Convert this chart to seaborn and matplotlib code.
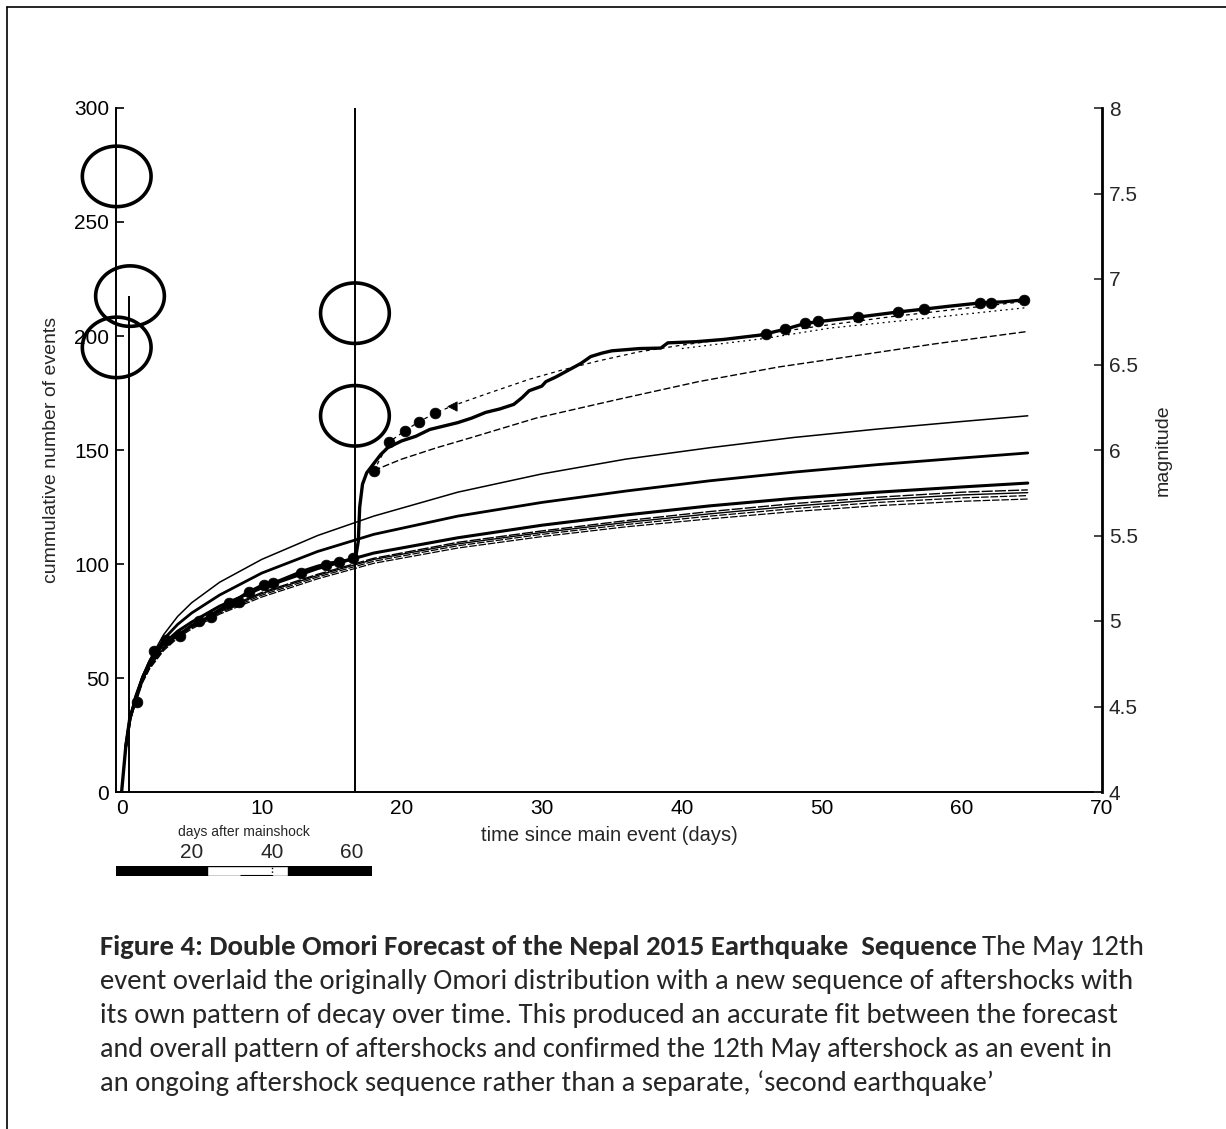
import numpy as np
import pandas as pd
import matplotlib
matplotlib.use("Agg")
import matplotlib.pyplot as plt
import seaborn as sns
from matplotlib.path import Path
from matplotlib.lines import Line2D
from matplotlib import font_manager as fm

# ---------------- data ----------------
# observed cumulative number of events
obs_days = [0.0, 0.3, 0.6, 1.0, 1.5, 2.0, 2.5, 3.0, 4.0, 5.0, 6.0, 7.0, 8.0, 9.0, 10.0,
            11.0, 12.0, 13.0, 14.0, 15.0, 16.0, 16.7, 16.9, 17.0, 17.2, 17.5, 18.0, 18.5,
            19.0, 20.0, 21.0, 22.0, 23.0, 24.0, 25.0, 26.0, 27.0, 28.0, 28.6, 29.1, 30.0,
            30.3, 31.0, 31.9, 32.8, 33.5, 34.3, 35.0, 36.0, 37.0, 38.5, 39.0, 41.0, 43.0,
            45.6, 46.0, 47.4, 48.8, 50.0, 52.6, 55.4, 57.3, 59.0, 61.3, 63.0, 64.7]
obs_counts = [0, 20, 33, 40, 50, 57, 62, 66, 68.5, 73, 76, 80, 83.5, 87.5, 90.5,
              92, 94.5, 97, 99, 100.5, 101.5, 102.5, 110, 125, 135, 140, 144, 148,
              151, 154, 156, 159, 160.5, 162, 164, 166.5, 168, 170, 173, 176, 178,
              180, 182, 185, 188, 191, 192.5, 193.5, 194, 194.5, 194.7, 197, 197.5, 198.5,
              200.4, 201, 203, 205.5, 206.5, 208.3, 210.5, 211.8, 213, 214.5, 215, 216]

# double-Omori forecast points (dots)
dot_days = [1.1, 2.3, 3.2, 4.2, 5.5, 6.4, 7.7, 8.4, 9.1, 10.2, 10.8, 12.8, 14.6, 15.5, 16.5,
            18.0, 19.1, 20.2, 21.2, 22.4,
            46.0, 47.4, 48.8, 49.7, 52.6, 55.4, 57.3, 61.3, 62.1, 64.4]
dot_counts = [39.5, 62, 66.7, 68.4, 75, 76.8, 82.9, 83.3, 87.7, 90.8, 91.7, 96, 99.6, 101, 102.5,
              140.8, 153.5, 158.3, 162.3, 166.2,
              201, 203, 205.7, 206.6, 208.3, 210.5, 211.8, 214.5, 214.5, 215.8]

# double-Omori forecast continuation (dashed)
dbl_days = [18.0, 19.1, 20.2, 21.2, 22.4, 23.6, 26.0, 29.1, 31.4, 34.0, 36.9, 40.0, 43.0,
            46.0, 50.0, 55.0, 60.0, 64.7]
dbl_counts = [140.8, 153.5, 158.3, 162.3, 166.2, 169.3, 174.5, 181, 185, 189, 193, 196, 198.5,
              201, 204.5, 208.5, 212, 215.3]
tri_day = [23.6]
tri_count = [169.3]

# variant forecast (dotted, late part)
var_days = [40.0, 46.0, 50.6, 57.8, 64.7]
var_counts = [194.5, 199, 203.5, 208, 212.5]

# single-Omori forecast for the second sequence (thin dashed)
f1_days = [18.0, 20.0, 22.5, 25.0, 29.6, 35.3, 41.2, 46.9, 52.0, 58.0, 64.7]
f1_counts = [141, 146, 151, 155.5, 164, 172, 180, 186.4, 191, 196.5, 202]

# single-Omori forecasts from the first sequence
fc_days = [0.3, 0.6, 1, 1.5, 2, 3, 4, 5, 7, 10, 14, 18, 24, 30, 36, 42, 48, 54, 60, 64.7]
fc_top = [20, 32, 42, 51, 58, 69, 77, 83, 92, 102, 112.5, 121, 131.5, 139.5, 146, 151, 155.5, 159.2, 162.5, 165]
fc_thick1 = [20, 32, 42, 50.5, 57, 67, 73.5, 78.5, 86.4, 96, 105.5, 113, 121, 127, 132, 136.5, 140.3, 143.6, 146.5, 148.7]
fc_thick2 = [20, 32, 41, 50, 56, 65, 70.5, 74.5, 81.5, 89.5, 98, 104.8, 111.5, 117, 121.5, 125.5, 128.8, 131.5, 133.8, 135.5]
fc_b1 = [20, 31.5, 40, 49, 55, 63.5, 69, 73, 79.5, 87.5, 95.5, 102.5, 109.5, 114.5, 119, 123, 126.5, 129.3, 131.5, 132.5]
fc_b2 = [20, 31.5, 40, 49, 55, 63, 68.5, 72.5, 79, 87, 95, 102, 108.8, 113.8, 118.2, 122, 125.4, 128.2, 130.3, 131.3]
fc_b3 = [20, 31, 40, 48.5, 54.5, 62.5, 68, 72, 78.5, 86.3, 94.3, 101.2, 108, 113, 117.3, 121, 124.3, 127, 129, 130]
fc_b4 = [20, 31, 39.5, 48, 54, 62, 67.5, 71.5, 78, 85.5, 93.5, 100.3, 107, 112, 116.3, 119.8, 123, 125.6, 127.5, 128.5]

# large events (magnitude, right axis)
evt_days = [-0.35, 0.6, -0.35, 16.66, 16.66]
evt_mags = [7.6, 6.9, 6.6, 6.8, 6.2]
stem_days = [0.55, 16.66]
stem_tops = [6.9, 8.0]

x_ticks = [0, 10, 20, 30, 40, 50, 60, 70]
y_ticks = [0, 50, 100, 150, 200, 250, 300]
m_ticks = [4, 4.5, 5, 5.5, 6, 6.5, 7, 7.5, 8]
m_labels = ["4", "4.5", "5", "5.5", "6", "6.5", "7", "7.5", "8"]

inset_ticks = [20, 40, 60]
inset_black1 = [1, 23.75]
inset_white = [23.75, 44]
inset_black2 = [44, 65]

caption_bold = "Figure 4: Double Omori Forecast of the Nepal 2015 Earthquake  Sequence"
caption_lines = [
    "The May 12th",
    "event overlaid the originally Omori distribution with a new sequence of aftershocks with",
    "its own pattern of decay over time. This produced an accurate fit between the forecast",
    "and overall pattern of aftershocks and confirmed the 12th May aftershock as an event in",
    "an ongoing aftershock sequence rather than a separate, \u2018second earthquake\u2019",
]

# ---------------- style ----------------
sns.set_style("white")
plt.rcParams["font.family"] = ["Liberation Sans", "DejaVu Sans"]

W, H = 1226, 1129
fig = plt.figure(figsize=(W / 100, H / 100), dpi=100)

def fx(px):
    return px / W

def fy(py):
    return 1 - py / H

ax = fig.add_axes([fx(116), fy(792), fx(1102) - fx(116), fy(108) - fy(792)])
ax.set_facecolor("none")

def line(xs, ys, lw, ls="-", ax_=None):
    df = pd.DataFrame({"x": xs, "y": ys})
    sns.lineplot(data=df, x="x", y="y", ax=ax_ or ax, color="black", linewidth=lw,
                 linestyle=ls, estimator=None, sort=False)

# first-sequence forecasts
for ys, lw, ls in [(fc_b4, 0.9, (0, (6, 1.5))), (fc_b3, 0.9, (0, (6, 1.5))),
                   (fc_b2, 1.0, "-"), (fc_b1, 1.0, (0, (8, 1.5))),
                   (fc_thick2, 2.2, "-"), (fc_thick1, 2.0, "-"), (fc_top, 1.1, "-")]:
    line(fc_days, ys, lw, ls)

# second-sequence single Omori
line(f1_days, f1_counts, 1.0, (0, (5, 2)))
# variant forecast
line(var_days, var_counts, 0.9, (0, (1.5, 3)))
# double Omori forecast (dashed)
line(dbl_days, dbl_counts, 0.9, (0, (3, 3)))
# observed
line(obs_days, obs_counts, 2.4, "-")

# forecast dots
sns.scatterplot(x=dot_days, y=dot_counts, ax=ax, color="black", s=60, edgecolor="black",
                linewidth=0.5, zorder=5)
sns.scatterplot(x=tri_day, y=tri_count, ax=ax, color="black", s=45, marker="<",
                edgecolor="black", zorder=5)

ax.set_xlim(-0.4, 70)
ax.set_ylim(0, 300)
ax.set_xticks(x_ticks)
ax.set_yticks(y_ticks)
ax.set_xticklabels([str(t) for t in x_ticks])
ax.set_yticklabels([str(t) for t in y_ticks])
ax.tick_params(axis="both", direction="in", length=6, width=1.2, labelsize=15,
               colors="black", pad=5)
ax.set_xlabel("time since main event (days)", fontsize=14.5, labelpad=6)
ax.set_ylabel("cummulative number of events", fontsize=14, labelpad=10)
for s in ["top", "right"]:
    ax.spines[s].set_visible(False)
ax.spines["left"].set_linewidth(1.4)
ax.spines["bottom"].set_linewidth(1.4)
ax.spines["left"].set_color("black")
ax.spines["bottom"].set_color("black")

# magnitude axis
ax2 = ax.twinx()
ax2.set_ylim(4, 8)
ax2.set_yticks(m_ticks)
ax2.set_yticklabels(m_labels)
ax2.tick_params(axis="y", direction="in", length=6, width=1.2, labelsize=15, pad=5)
ax2.set_ylabel("magnitude", fontsize=14, labelpad=12)
for s in ["top", "left", "bottom"]:
    ax2.spines[s].set_visible(False)
ax2.spines["right"].set_linewidth(2.0)
ax2.spines["right"].set_color("black")

ax2.vlines(stem_days, [4] * len(stem_days), stem_tops, color="black", linewidth=1.4)

t = np.linspace(0, 2 * np.pi, 80)
ell = Path(np.column_stack([np.cos(t), 0.88 * np.sin(t)]), closed=True)
sns.scatterplot(x=evt_days, y=evt_mags, ax=ax2, marker=ell, s=2450, color="black",
                facecolor="none", edgecolor="black", linewidth=2.6, zorder=6, clip_on=False)
ax2.set_xlim(-0.4, 70)

# inset "days after mainshock" bar
axi = fig.add_axes([fx(116), fy(876), fx(372) - fx(116), fy(866) - fy(876)])
axi.barh([0], [inset_black2[1] - inset_black1[0]], left=[inset_black1[0]], height=1.0,
         color="white", edgecolor="black", linewidth=1.0)
axi.barh([0], [inset_black1[1] - inset_black1[0]], left=[inset_black1[0]], height=1.0,
         color="black", edgecolor="black")
axi.barh([0], [inset_black2[1] - inset_black2[0]], left=[inset_black2[0]], height=1.0,
         color="black", edgecolor="black")
axi.vlines([40], [-0.5], [0.5], color="black", linewidth=1.0, linestyles=":")
axi.hlines([-0.42], [32], [40], color="black", linewidth=0.8)
axi.set_xlim(inset_black1[0], inset_black2[1])
axi.set_ylim(-0.5, 0.5)
axi.set_yticks([])
axi.set_xticks(inset_ticks)
axi.set_xticklabels([str(v) for v in inset_ticks])
axi.xaxis.set_ticks_position("top")
axi.tick_params(axis="x", length=0, labelsize=15, pad=3)
for s in axi.spines.values():
    s.set_visible(False)
fig.text(fx(244), fy(832), "days after mainshock", fontsize=10, ha="center", va="center")

# figure border (top and left)
fig.add_artist(Line2D([fx(7), 1], [fy(7), fy(7)], color="black", linewidth=1.2))
fig.add_artist(Line2D([fx(7), fx(7)], [0, fy(7)], color="black", linewidth=1.2))

# caption
avail = {f.name for f in fm.fontManager.ttflist}
cap_font = next((f for f in ["Carlito", "Lato", "Open Sans", "Noto Sans"] if f in avail), "DejaVu Sans")
baselines = [955, 989, 1023, 1057, 1091]
fig.canvas.draw()
r = fig.canvas.get_renderer()

def fit(txt, width):
    bb = txt.get_window_extent(renderer=r)
    txt.set_fontsize(txt.get_fontsize() * width / bb.width)

ends = [1136, 1118, 1113, 997]
sizes = []
for i, (txt, e) in enumerate(zip(caption_lines[1:], ends)):
    o = fig.text(fx(100), fy(baselines[i + 1]), txt, fontsize=16, family=cap_font,
                 ha="left", va="baseline")
    fit(o, e - 100)
    sizes.append(o.get_fontsize())
body_size = float(np.median(sizes))

tb = fig.text(fx(100), fy(baselines[0]), caption_bold, fontsize=16, fontweight="bold",
              family=cap_font, ha="left", va="baseline")
fit(tb, 975 - 100)
tr = fig.text(fx(982), fy(baselines[0]), caption_lines[0], fontsize=body_size, family=cap_font,
              ha="left", va="baseline")

fig.savefig("out.png", dpi=100, facecolor="white")
